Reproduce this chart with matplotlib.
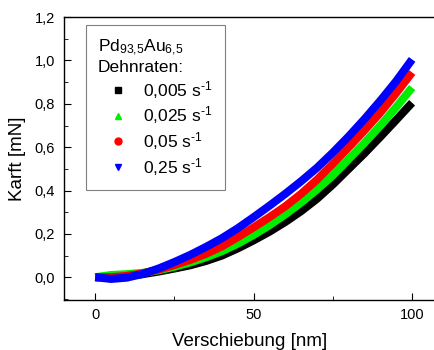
import numpy as np
import matplotlib
matplotlib.use("Agg")
import matplotlib.pyplot as plt
from matplotlib.lines import Line2D

plt.rcParams['font.family'] = ['Liberation Sans', 'DejaVu Sans']
plt.rcParams['mathtext.fontset'] = 'custom'
plt.rcParams['mathtext.rm'] = 'Liberation Sans'
plt.rcParams['mathtext.it'] = 'Liberation Sans'
plt.rcParams['mathtext.default'] = 'regular'

# displacement [nm]
x = [0, 5, 10, 15, 20, 25, 30, 35, 40, 45, 50, 55, 60, 65, 70, 75, 80, 85, 90, 95, 100]

# force [mN] for each strain rate
f_0005 = [0.0, 0.0, 0.005, 0.014, 0.026, 0.04, 0.055, 0.075, 0.10, 0.133, 0.17, 0.21, 0.255, 0.305, 0.362, 0.428, 0.50, 0.572, 0.648, 0.726, 0.805]
f_0025 = [0.0, 0.01, 0.014, 0.02, 0.032, 0.048, 0.068, 0.092, 0.12, 0.155, 0.195, 0.24, 0.29, 0.345, 0.405, 0.47, 0.545, 0.62, 0.70, 0.785, 0.875]
f_005 = [0.0, 0.0, 0.006, 0.018, 0.035, 0.056, 0.08, 0.108, 0.142, 0.185, 0.23, 0.277, 0.327, 0.385, 0.45, 0.523, 0.60, 0.678, 0.76, 0.85, 0.945]
f_025 = [0.0, -0.008, -0.002, 0.015, 0.04, 0.07, 0.103, 0.14, 0.18, 0.226, 0.277, 0.33, 0.385, 0.443, 0.505, 0.575, 0.65, 0.73, 0.815, 0.905, 1.005]

labels = ['0,005 s$^{‐1}$', '0,025 s$^{‐1}$', '0,05 s$^{‐1}$', '0,25 s$^{‐1}$']
colors = ['black', '#00ee00', 'red', 'blue']
markers = ['s', '^', 'o', 'v']

xticks = [0, 50, 100]
xticklabels = ['0', '50', '100']
yticks = [0.0, 0.2, 0.4, 0.6, 0.8, 1.0, 1.2]
yticklabels = ['0,0', '0,2', '0,4', '0,6', '0,8', '1,0', '1,2']

fig = plt.figure(figsize=(4.35, 3.5), dpi=100)
ax = fig.add_axes([0.146, 0.143, 0.856, 0.808])

for f, c in zip([f_0005, f_0025, f_005, f_025], colors):
    ax.plot(x, f, color=c, lw=5.8, solid_capstyle='butt', solid_joinstyle='round')

ax.set_xlim(-10, 107.5)
ax.set_ylim(-0.105, 1.2)
ax.set_xticks(xticks)
ax.set_xticklabels(xticklabels, fontsize=10.5)
ax.set_xticks([25, 75], minor=True)
ax.set_yticks(yticks)
ax.set_yticklabels(yticklabels, fontsize=10.5)
ax.set_yticks(np.arange(-0.1, 1.2, 0.2), minor=True)
ax.tick_params(which='both', direction='in', top=False, right=False)
ax.tick_params(which='major', length=5, pad=6)
ax.tick_params(which='minor', length=3)
for s in ax.spines.values():
    s.set_linewidth(1.0)

ax.set_xlabel('Verschiebung [nm]', fontsize=13.5, labelpad=8)
ax.set_ylabel('Karft [mN]', fontsize=13.5, labelpad=6)

handles = [Line2D([], [], ls='none', marker=m, color=c, markersize=5) for m, c in zip(markers, colors)]
leg = ax.legend(handles, labels, title='Pd$_{93{,}5}$Au$_{6{,}5}$\nDehnraten:',
                loc='upper left', bbox_to_anchor=(0.06, 0.972), borderaxespad=0,
                fontsize=12.5, title_fontsize=12.5, alignment='left', fancybox=False,
                edgecolor='gray', framealpha=1, handlelength=2.3,
                handletextpad=0.3, labelspacing=0.22, borderpad=0.7)
leg.get_frame().set_linewidth(0.8)

fig.savefig('out.png', dpi=100)
